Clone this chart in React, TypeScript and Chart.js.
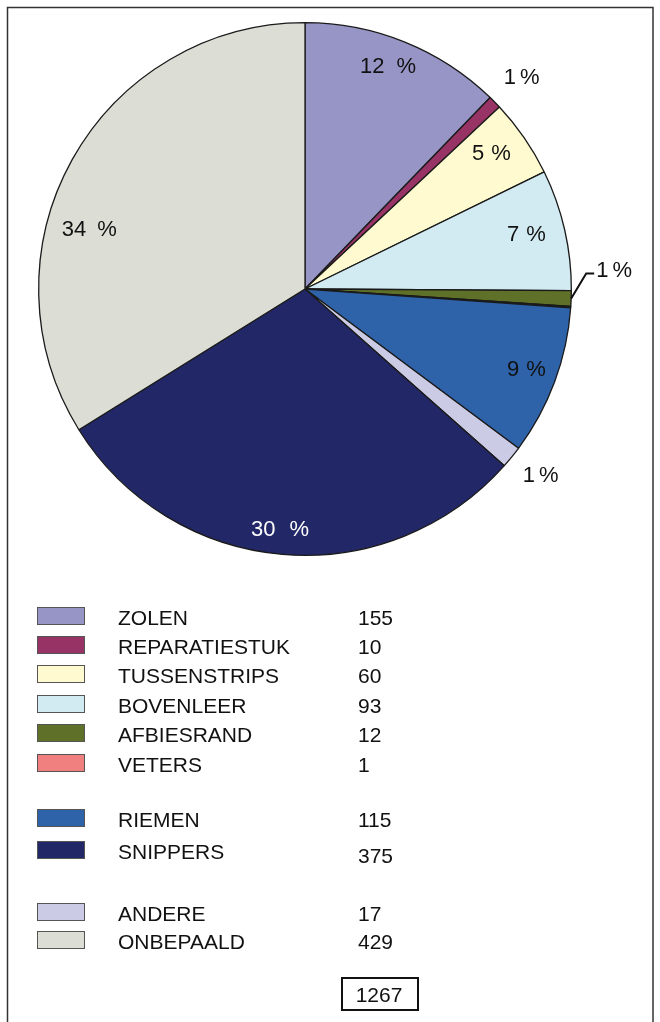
import React, { useEffect, useRef } from "react";
import { Chart, registerables } from "chart.js";

Chart.register(...registerables);

// ---- data ----
const categories = [
  "ZOLEN",
  "REPARATIESTUK",
  "TUSSENSTRIPS",
  "BOVENLEER",
  "AFBIESRAND",
  "VETERS",
  "RIEMEN",
  "ANDERE",
  "SNIPPERS",
  "ONBEPAALD",
];
const values = [155, 10, 60, 93, 12, 1, 115, 17, 375, 429];
const colors = [
  "#9795C6",
  "#983366",
  "#FFFACF",
  "#D2EBF2",
  "#5F7128",
  "#F08080",
  "#2E62A9",
  "#CCCBE6",
  "#222768",
  "#DCDED6",
];
// legend groups (category names, in legend order)
const legendGroups = [
  ["ZOLEN", "REPARATIESTUK", "TUSSENSTRIPS", "BOVENLEER", "AFBIESRAND", "VETERS"],
  ["RIEMEN", "SNIPPERS"],
  ["ANDERE", "ONBEPAALD"],
];

// ---- styling / layout (not data) ----
const FONT = '"Liberation Sans", Arial, sans-serif';
// per-slice label placement: [angle offset deg, radius fraction, gap before %, text color] or "leader" or null
const labelPlacement: any[] = [
  [-1.5, 0.89, 12, "#111"],
  [0.3, 1.135, 4, "#111"],
  [-1.4, 0.865, 7, "#111"],
  [-0.8, 0.855, 7, "#111"],
  "leader",
  null,
  [-0.4, 0.885, 7, "#111"],
  [-0.7, 1.13, 4, "#111"],
  [1.1, 0.91, 14, "#fff"],
  [-13.7, 0.84, 11, "#111"],
];
const legendBaselines = [
  [625, 654, 683, 713, 742, 772],
  [827, 859],
  [921, 949],
];

export default function App() {
  const ref = useRef<HTMLCanvasElement>(null);

  useEffect(() => {
    const canvas = ref.current!;
    const total = values.reduce((a, b) => a + b, 0);

    const drawPct = (
      ctx: CanvasRenderingContext2D,
      pct: number,
      x: number,
      y: number,
      gap: number,
      color: string,
      align: "center" | "left"
    ) => {
      ctx.font = `22px ${FONT}`;
      ctx.fillStyle = color;
      ctx.textBaseline = "middle";
      ctx.textAlign = "left";
      const n = String(pct);
      const wn = ctx.measureText(n).width;
      const wp = ctx.measureText("%").width;
      const tot = wn + gap + wp;
      const sx = align === "center" ? x - tot / 2 : x;
      ctx.fillText(n, sx, y);
      ctx.fillText("%", sx + wn + gap, y);
    };

    const overlay = {
      id: "overlay",
      afterDraw(chart: any) {
        const ctx: CanvasRenderingContext2D = chart.ctx;
        ctx.save();
        // frame
        ctx.strokeStyle = "#333";
        ctx.lineWidth = 1.5;
        ctx.strokeRect(7.5, 7.5, 645.5, 1040);

        // percentage labels
        const meta = chart.getDatasetMeta(0);
        meta.data.forEach((arc: any, i: number) => {
          const pl = labelPlacement[i];
          if (!pl) return;
          const pct = Math.round((values[i] / total) * 100);
          const mid = (arc.startAngle + arc.endAngle) / 2;
          const R = arc.outerRadius;
          const cx = arc.x;
          const cy = arc.y;
          if (pl === "leader") {
            const sx = cx + R * Math.cos(mid);
            const sy = cy + R * Math.sin(mid);
            const ex = sx + 15;
            const ey = sy - 25;
            ctx.strokeStyle = "#111";
            ctx.lineWidth = 2;
            ctx.beginPath();
            ctx.moveTo(sx, sy);
            ctx.lineTo(ex, ey);
            ctx.lineTo(ex + 8, ey);
            ctx.stroke();
            drawPct(ctx, pct, ex + 10, ey - 3, 4, "#111", "left");
            return;
          }
          const [dAng, rf, gap, col] = pl;
          const a = mid + (dAng * Math.PI) / 180;
          const x = cx + R * rf * Math.cos(a);
          const y = cy + R * rf * Math.sin(a);
          drawPct(ctx, pct, x, y, gap, col, "center");
        });

        // legend
        ctx.font = `21px ${FONT}`;
        ctx.textBaseline = "alphabetic";
        ctx.textAlign = "left";
        legendGroups.forEach((group, gi) => {
          group.forEach((name, ri) => {
            const idx = categories.indexOf(name);
            const base = legendBaselines[gi][ri];
            ctx.fillStyle = colors[idx];
            ctx.fillRect(37, base - 18, 48, 18);
            ctx.strokeStyle = "#555";
            ctx.lineWidth = 1;
            ctx.strokeRect(37.5, base - 17.5, 47, 17);
            ctx.fillStyle = "#111";
            ctx.fillText(name, 118, base);
            ctx.fillText(String(values[idx]), 358, base + (name === "SNIPPERS" ? 4 : 0));
          });
        });

        // total box
        ctx.strokeStyle = "#111";
        ctx.lineWidth = 2;
        ctx.strokeRect(342, 978, 76, 32);
        ctx.fillStyle = "#111";
        ctx.textAlign = "center";
        ctx.fillText(String(total), 379, 1002);
        ctx.restore();
      },
    };

    const chart = new Chart(canvas, {
      type: "pie",
      data: {
        labels: categories,
        datasets: [
          {
            data: values,
            backgroundColor: colors,
            borderColor: "#1a1a1a",
            borderWidth: 1.3,
          },
        ],
      },
      options: {
        responsive: false,
        animation: false,
        devicePixelRatio: 1,
        layout: { padding: { left: 38, right: 88, top: 22, bottom: 466 } },
        plugins: {
          legend: { display: false },
          tooltip: { enabled: false },
        },
      },
      plugins: [overlay],
    });
    return () => chart.destroy();
  }, []);

  return (
    <div
      style={{
        position: "absolute",
        left: 0,
        top: 0,
        width: 660,
        height: 1022,
        background: "#fff",
        overflow: "hidden",
      }}
    >
      <canvas ref={ref} width={660} height={1022} style={{ display: "block" }} />
    </div>
  );
}
